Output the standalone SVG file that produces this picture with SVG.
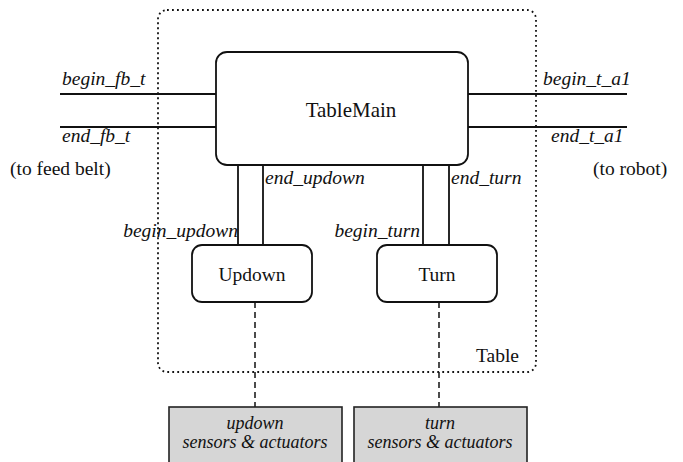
<svg xmlns="http://www.w3.org/2000/svg" width="683" height="462" viewBox="0 0 683 462">
  <style>
    .bg { fill: #ffffff; }
    .proc { fill: #ffffff; stroke: #111; stroke-width: 1.8; }
    .env { fill: #d6d6d6; stroke: #222; stroke-width: 1.6; }
    .wire { stroke: #111; stroke-width: 1.8; fill: none; }
    .hw { stroke: #111; stroke-width: 1.5; stroke-dasharray: 6 4; fill: none; }
    .frame { fill: none; stroke: #111; stroke-width: 1.8; stroke-dasharray: 1.8 3.2; }
    text { font-family: "Liberation Serif", "Times New Roman", serif; font-size: 19.5px; fill: #111; }
    .i { font-style: italic; }
    .c { text-anchor: middle; }
    .e { text-anchor: end; }
    .big { font-size: 21px; }
    .sm { font-size: 18px; }
  </style>
  <rect class="bg" x="0" y="0" width="683" height="462"/>

  <!-- Table container -->
  <g id="table">
    <rect class="frame" x="158" y="10" width="378" height="362" rx="9" ry="9"/>
    <text x="519" y="362" text-anchor="end">Table</text>
  </g>

  <!-- channels -->
  <g id="connectors">
    <line class="wire" x1="60" y1="94" x2="232" y2="94"/>
    <line class="wire" x1="60" y1="127" x2="232" y2="127"/>
    <line class="wire" x1="449" y1="94" x2="627" y2="94"/>
    <line class="wire" x1="449" y1="127" x2="627" y2="127"/>
    <line class="wire" x1="238" y1="165" x2="238" y2="245"/>
    <line class="wire" x1="263" y1="165" x2="263" y2="245"/>
    <line class="wire" x1="423" y1="165" x2="423" y2="245"/>
    <line class="wire" x1="449" y1="165" x2="449" y2="245"/>
    <line class="hw" x1="255" y1="302" x2="255" y2="407"/>
    <line class="hw" x1="439" y1="302" x2="439" y2="407"/>
    <text class="i" x="62" y="85">begin_fb_t</text>
    <text class="i" x="62" y="142">end_fb_t</text>
    <text x="10" y="175">(to feed belt)</text>
    <text class="i" x="543" y="85">begin_t_a1</text>
    <text class="i" x="551" y="142">end_t_a1</text>
    <text x="593" y="175">(to robot)</text>
    <text class="i" x="265" y="184">end_updown</text>
    <text class="i" x="451" y="184">end_turn</text>
    <text class="i e" x="238" y="237">begin_updown</text>
    <text class="i e" x="420" y="237">begin_turn</text>
  </g>

  <g id="tablemain">
    <rect class="proc" x="216" y="52" width="252" height="113" rx="11" ry="11"/>
    <text class="c big" x="351" y="117">TableMain</text>
  </g>

  <g id="updown">
    <rect class="proc" x="192" y="245" width="120" height="57" rx="10" ry="10"/>
    <text class="c" x="252" y="281">Updown</text>
  </g>

  <g id="turn">
    <rect class="proc" x="377" y="245" width="120" height="57" rx="10" ry="10"/>
    <text class="c" x="437" y="281">Turn</text>
  </g>

  <g id="updown-hw">
    <rect class="env" x="169" y="407" width="173" height="60"/>
    <text class="i c sm" x="255" y="429">updown</text>
    <text class="i c sm" x="255" y="448">sensors &amp; actuators</text>
  </g>

  <g id="turn-hw">
    <rect class="env" x="354" y="407" width="173" height="60"/>
    <text class="i c sm" x="440" y="429">turn</text>
    <text class="i c sm" x="440" y="448">sensors &amp; actuators</text>
  </g>
</svg>
